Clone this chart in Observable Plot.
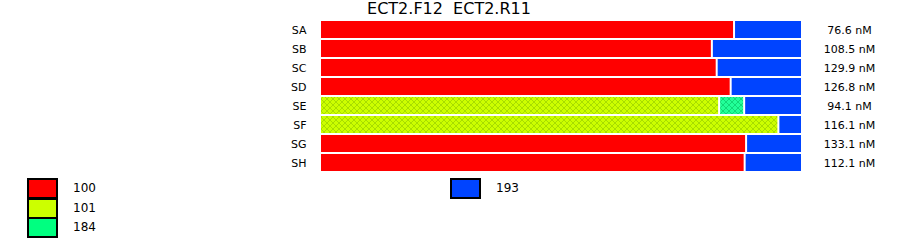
<!DOCTYPE html>
<html><head><meta charset="utf-8">
<script src="https://cdn.jsdelivr.net/npm/d3@7"></script>
<script src="https://cdn.jsdelivr.net/npm/@observablehq/plot@0.6"></script>
<style>
body{margin:0;background:#fff;font-family:"DejaVu Sans",Verdana,sans-serif;}
#wrap{position:relative;width:900px;height:242px;overflow:hidden;}
#title{position:absolute;left:0;width:898px;top:1px;text-align:center;font-size:16px;line-height:16px;white-space:pre;}
.lbox{position:absolute;width:31px;height:21px;box-sizing:border-box;border:2px solid #000;}
.ltxt{position:absolute;font-size:12px;line-height:21px;}
svg{position:absolute;left:0;top:0;}
</style></head><body>
<div id="wrap"></div>
<script>
// ---- data ----
const rows = ["SA","SB","SC","SD","SE","SF","SG","SH"];
const concLabels = ["76.6 nM","108.5 nM","129.9 nM","126.8 nM","94.1 nM","116.1 nM","133.1 nM","112.1 nM"];
const categories = ["100","101","184","193"];
const pct100 = [85.9, 81.3, 82.3, 85.2, 0, 0, 88.4, 88.1];
const pct101 = [0, 0, 0, 0, 82.8, 95.1, 0, 0];
const pct184 = [0, 0, 0, 0, 5.2, 0, 0, 0];
const pct193 = [14.1, 18.7, 17.7, 14.8, 12.0, 4.9, 11.6, 11.9];
const hatchedRows = ["SE","SF"];
const titleText = "ECT2.F12  ECT2.R11";

// ---- styles ----
const colors = {"100":"#ff0000","101":"#ccff00","184":"#00ff80","193":"#0044ff"};
const hatchBase = {"101":"#ccff00","184":"#22ff99"};
const hatchLine = {"101":"#a8dd00","184":"#10d878"};

const series = {"100":pct100,"101":pct101,"184":pct184,"193":pct193};
const table = [];
rows.forEach((r,i)=>{
  categories.forEach(c=>{
    const v = series[c][i];
    if (v > 0) table.push({row:r, cat:c, value:v, hatched: hatchedRows.includes(r) && hatchBase[c] !== undefined});
  });
});
const labelTable = rows.map((r,i)=>({row:r, label:concLabels[i]}));

const wrap = document.getElementById("wrap");

const svg = Plot.plot({
  width: 900,
  height: 242,
  marginLeft: 320,
  marginRight: 98,
  marginTop: 20,
  marginBottom: 70,
  style: {fontFamily: '"DejaVu Sans", Verdana, sans-serif', fontSize: "11px", background: "transparent"},
  x: {domain: [0, 100], axis: null},
  y: {domain: rows, padding: 0, tickSize: 0, tickPadding: 14, label: null},
  color: {type: "identity"},
  marks: [
    Plot.barX(table, Plot.stackX({
      x: "value", y: "row",
      fill: d => d.hatched ? `url(#hatch${d.cat})` : colors[d.cat],
      insetLeft: 1, insetRight: 1, insetTop: 1, insetBottom: 1
    })),
    Plot.text(labelTable, {x: () => 100, y: "row", text: "label", dx: 47, textAnchor: "middle", fontSize: 11, fill: "#000"})
  ]
});

// hatch patterns
const defs = d3.select(svg).insert("defs", ":first-child");
Object.keys(hatchBase).forEach(c=>{
  const p = defs.append("pattern").attr("id", "hatch"+c).attr("patternUnits","userSpaceOnUse")
    .attr("width",6).attr("height",6);
  p.append("rect").attr("width",6).attr("height",6).attr("fill",hatchBase[c]);
  p.append("path").attr("d","M0,0L6,6M6,0L0,6M-1,5L1,7M5,-1L7,1M-1,1L1,-1M5,7L7,5")
    .attr("stroke",hatchLine[c]).attr("stroke-width",1).attr("fill","none");
});
wrap.appendChild(svg);

// title
const t = document.createElement("div");
t.id = "title"; t.textContent = titleText;
wrap.appendChild(t);

// legend
const legendItems = [
  {cat:"100", x:27, y:178, tx:73},
  {cat:"101", x:27, y:197.7, tx:73},
  {cat:"184", x:27, y:217.4, tx:73},
  {cat:"193", x:450, y:178, tx:496}
];
legendItems.forEach(it=>{
  const b = document.createElement("div");
  b.className = "lbox";
  b.style.left = it.x+"px"; b.style.top = it.y+"px"; b.style.background = colors[it.cat];
  wrap.appendChild(b);
  const l = document.createElement("div");
  l.className = "ltxt";
  l.style.left = it.tx+"px"; l.style.top = it.y+"px"; l.textContent = it.cat;
  wrap.appendChild(l);
});
</script>
</body></html>
